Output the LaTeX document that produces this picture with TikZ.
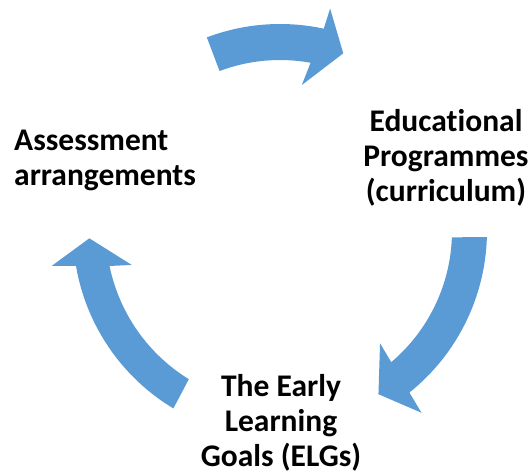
\documentclass[tikz,border=0pt]{standalone}
\usepackage{fontspec}
\setmainfont[Ligatures=NoCommon]{Carlito}
\begin{document}
\begin{tikzpicture}[x=1pt,y=1pt,
  arrowfill/.style={fill=officeblue, draw=none},
  lbl/.style={font=\fontsize{31.5}{35}\selectfont\bfseries, inner sep=0pt, text=black}]
\definecolor{officeblue}{HTML}{5B9BD5}
\useasboundingbox (0,0) rectangle (530,474);
\begin{scope}[shift={(280,243)}]
  % top arrow
  \fill[arrowfill] (110.7:207) arc[start angle=110.7, end angle=77.8, radius=207]
    -- (77.3:228) -- (70.4:188.6) -- (81.5:147.6) -- (79.7:171)
    arc[start angle=79.7, end angle=110.7, radius=171] -- cycle;
  % right arrow
  \fill[arrowfill] (-1.7:207) arc[start angle=-1.7, end angle=-51.3, radius=207]
    -- (-52.1:230.4) -- (-58.9:190.6) -- (-48.3:150.4) -- (-49.7:172)
    arc[start angle=-49.7, end angle=-2.1, radius=172] -- cycle;
  % left arrow
  \fill[arrowfill] (239:207) arc[start angle=239, end angle=189.7, radius=207]
    -- (188.7:231) -- (182.2:190.8) -- (192.9:152.1) -- (191.6:174)
    arc[start angle=191.6, end angle=238.4, radius=174] -- cycle;
\end{scope}
\node[lbl, anchor=base west, align=left] (assess) at (14,288) {Assessment\\arrangements};
\node[lbl, anchor=base, align=center] (edu) at (446,272) {Educational\\Programmes\\(curriculum)};
\node[lbl, anchor=base, align=center] (elg) at (281,8) {The Early\\Learning\\Goals (ELGs)};
\end{tikzpicture}
\end{document}
